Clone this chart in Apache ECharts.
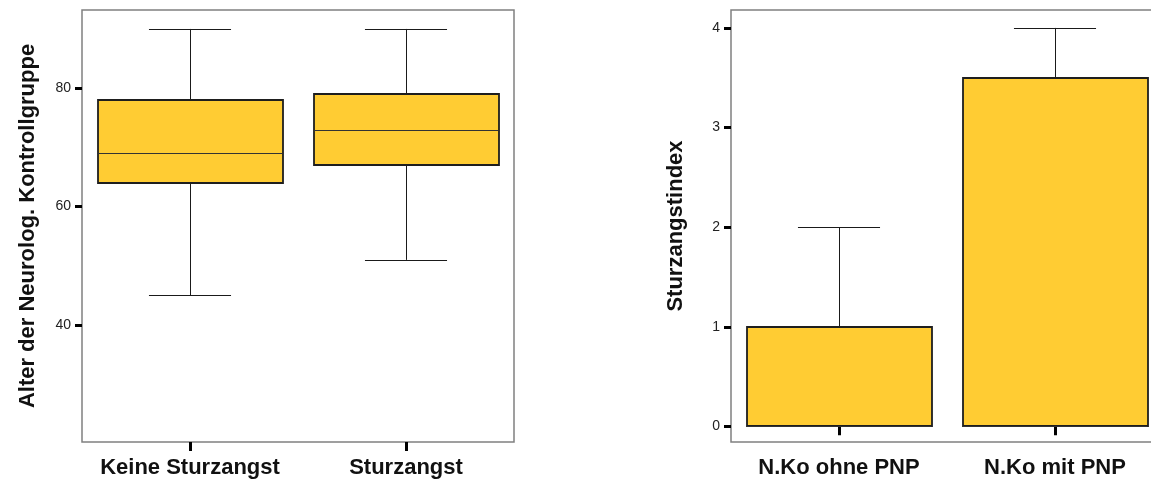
<!DOCTYPE html>
<html>
<head>
<meta charset="utf-8">
<script src="https://cdn.jsdelivr.net/npm/echarts@6/dist/echarts.min.js"></script>
<style>
  html, body { margin: 0; padding: 0; background: #fff; }
  #chart { width: 1151px; height: 482px; }
</style>
</head>
<body>
<div id="chart"></div>
<script>
// Left panel: age of the neurological control group, split by fear of falling
const ageGroups = ['Keine Sturzangst', 'Sturzangst'];
// [min, Q1, median, Q3, max]
const ageBoxes = [
  [45, 64, 69, 78, 90],
  [51, 67, 73, 79, 90]
];
const ageTicks = [40, 60, 80];

// Right panel: fall-anxiety index, control group without / with PNP
const indexGroups = ['N.Ko ohne PNP', 'N.Ko mit PNP'];
const indexBoxes = [
  [0, 0, 0, 1, 2],
  [0, 0, 0, 3.5, 4]
];
const indexTicks = [0, 1, 2, 3, 4];

const FILL = '#FFCC33';
const FONT = 'Liberation Sans, Arial, sans-serif';

function crisp(v) { return Math.round(v) + 0.5; }

// Box with narrow whisker caps, drawn through the axis scales
function renderBox(params, api) {
  const c = api.value(0);
  const vals = [api.value(1), api.value(2), api.value(3), api.value(4), api.value(5)];
  const band = api.size([1, 0])[0];
  const boxW = band * 0.855;
  const capW = band * 0.38;
  const cx = api.coord([c, 0])[0];
  const y = vals.map(v => api.coord([c, v])[1]);
  const xc = crisp(cx);
  const lineStyle = { stroke: '#1a1a1a', lineWidth: 1 };
  const children = [];
  // upper whisker
  children.push({ type: 'line', shape: { x1: xc, y1: y[3], x2: xc, y2: y[4] }, style: lineStyle });
  children.push({ type: 'line', shape: { x1: cx - capW / 2, y1: crisp(y[4]), x2: cx + capW / 2, y2: crisp(y[4]) }, style: lineStyle });
  // lower whisker
  if (vals[0] < vals[1]) {
    children.push({ type: 'line', shape: { x1: xc, y1: y[1], x2: xc, y2: y[0] }, style: lineStyle });
    children.push({ type: 'line', shape: { x1: cx - capW / 2, y1: crisp(y[0]), x2: cx + capW / 2, y2: crisp(y[0]) }, style: lineStyle });
  }
  // box
  children.push({
    type: 'rect',
    shape: { x: Math.round(cx - boxW / 2), y: Math.round(y[3]), width: Math.round(boxW), height: Math.round(y[1]) - Math.round(y[3]) },
    style: { fill: FILL, stroke: '#1e1e1e', lineWidth: 1.8 }
  });
  // median
  children.push({ type: 'line', shape: { x1: cx - boxW / 2, y1: crisp(y[2]), x2: cx + boxW / 2, y2: crisp(y[2]) }, style: { stroke: '#333', lineWidth: 1 } });
  return { type: 'group', children: children };
}

function catAxis(gridIndex, data) {
  return {
    type: 'category',
    gridIndex: gridIndex,
    data: data,
    axisLine: { show: false },
    axisTick: { show: true, interval: 0, alignWithLabel: true, length: 9, lineStyle: { color: '#000', width: 3 } },
    axisLabel: { interval: 0, hideOverlap: false, margin: 15, color: '#111', fontFamily: FONT, fontSize: 22, fontWeight: 'bold' },
    splitLine: { show: false }
  };
}

function valAxis(gridIndex, min, max, ticks, name, nameGap) {
  return {
    type: 'value',
    gridIndex: gridIndex,
    min: min,
    max: max,
    name: name,
    nameLocation: 'middle',
    nameGap: nameGap,
    nameTextStyle: { color: '#111', fontFamily: FONT, fontSize: 22, fontWeight: 'bold' },
    axisLine: { show: false },
    axisTick: { show: true, length: 7, lineStyle: { color: '#000', width: 3 }, customValues: ticks },
    axisLabel: { margin: 11, color: '#222', fontFamily: FONT, fontSize: 14, customValues: ticks },
    splitLine: { show: false }
  };
}

const chart = echarts.init(document.getElementById('chart'), null, { renderer: 'canvas' });
chart.setOption({
  animation: false,
  backgroundColor: '#fff',
  grid: [
    { left: 82, top: 10, width: 432, height: 432, outerBoundsMode: 'none', containLabel: false, show: true, borderColor: '#808080', borderWidth: 1.5, backgroundColor: 'transparent' },
    { left: 731, top: 10, width: 432, height: 432, outerBoundsMode: 'none', containLabel: false, show: true, borderColor: '#808080', borderWidth: 1.5, backgroundColor: 'transparent' }
  ],
  xAxis: [catAxis(0, ageGroups), catAxis(1, indexGroups)],
  yAxis: [
    valAxis(0, 20.25, 93.2, ageTicks, 'Alter der Neurolog. Kontrollgruppe', 43),
    valAxis(1, -0.157, 4.18, indexTicks, 'Sturzangstindex', 44)
  ],
  series: [
    {
      type: 'custom',
      xAxisIndex: 0, yAxisIndex: 0,
      renderItem: renderBox,
      encode: { x: 0, y: [1, 2, 3, 4, 5] },
      data: ageBoxes.map((b, i) => [i].concat(b))
    },
    {
      type: 'custom',
      xAxisIndex: 1, yAxisIndex: 1,
      renderItem: renderBox,
      encode: { x: 0, y: [1, 2, 3, 4, 5] },
      data: indexBoxes.map((b, i) => [i].concat(b))
    }
  ]
});
</script>
</body>
</html>
